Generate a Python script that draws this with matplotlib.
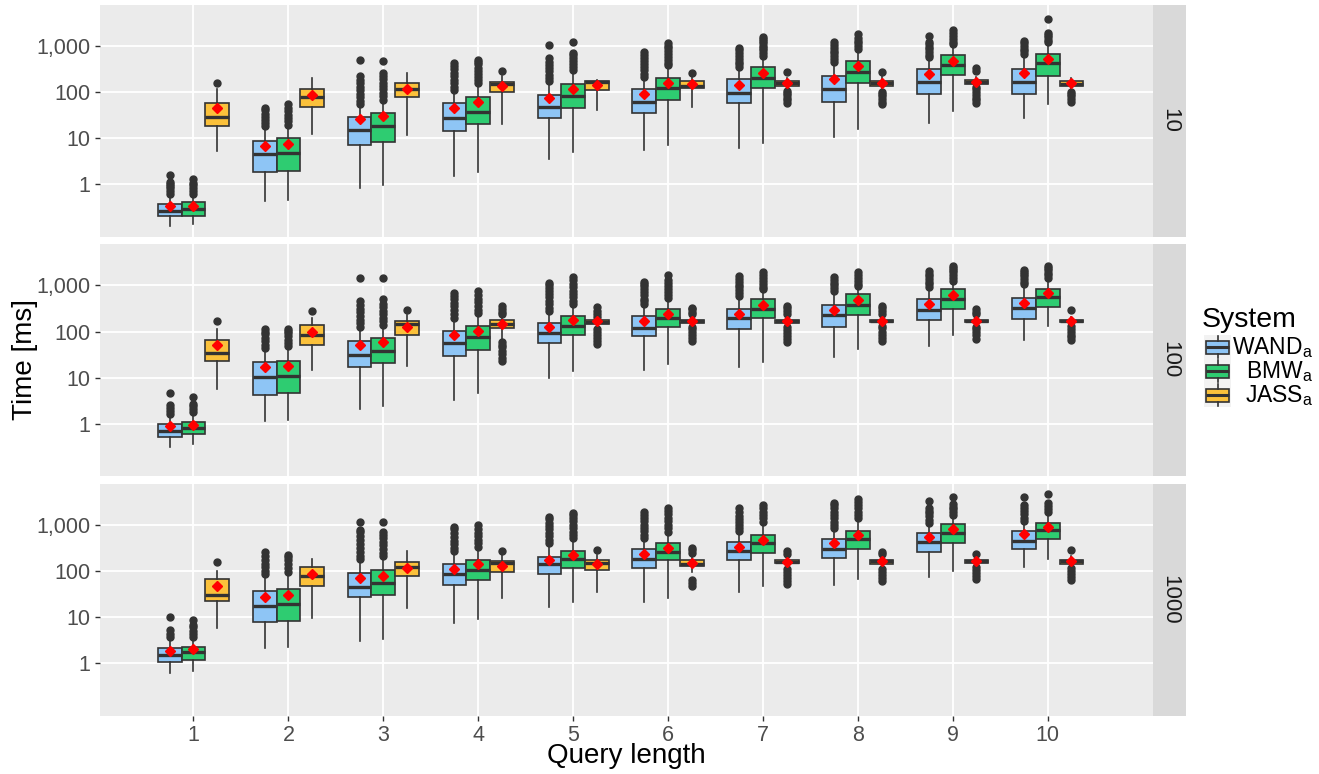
import matplotlib
matplotlib.use("Agg")
import matplotlib.pyplot as plt
from matplotlib.patches import Rectangle
from matplotlib.ticker import NullLocator, FixedLocator, FuncFormatter

plt.rcParams['font.family'] = ['Liberation Sans', 'DejaVu Sans']
plt.rcParams['mathtext.fontset'] = 'custom'
plt.rcParams['mathtext.rm'] = 'Liberation Sans'
plt.rcParams['mathtext.it'] = 'Liberation Sans:italic'

# ---------------- data ----------------
query_lengths = [1, 2, 3, 4, 5, 6, 7, 8, 9, 10]
facet_labels = ["10", "100", "1000"]
systems = ["WAND", "BMW", "JASS"]
legend_labels = [r"WAND$_\mathrm{a}$", r"BMW$_\mathrm{a}$", r"JASS$_\mathrm{a}$"]
y_breaks = [1, 10, 100, 1000]

# facet "10"
WAND_10_LOW = [0.124, 0.43, 0.8, 1.52, 3.5, 5.5, 6.2, 10.4, 21.5, 26.8]
WAND_10_Q1 = [0.20, 1.8, 7.0, 14.2, 27.6, 34.4, 57, 61.5, 90, 90]
WAND_10_MED = [0.263, 4.5, 14.9, 26.8, 46.4, 60, 97, 114, 167, 167]
WAND_10_Q3 = [0.367, 8.6, 29, 56.8, 86, 114, 189, 226, 311, 311]
WAND_10_HIGH = [0.52, 16.2, 49.6, 101, 155, 198, 327, 418, 540, 540]
WAND_10_MEAN = [0.33, 6.8, 25.5, 44, 73, 90, 142, 189, 245, 255]
WAND_10_OUT = [
    [0.6, 0.7, 0.8, 0.9, 1.0, 1.1, 1.57],
    [18, 21, 25, 29, 34, 40, 46],
    [55, 65, 78, 92, 110, 130, 155, 185, 220, 500],
    [110, 130, 155, 185, 220, 260, 310, 370, 420],
    [170, 200, 235, 280, 330, 390, 460, 540, 1050],
    [215, 250, 295, 350, 410, 480, 560, 650, 750],
    [350, 400, 460, 530, 610, 700, 800, 900],
    [450, 520, 600, 690, 790, 900, 1050, 1200],
    [580, 650, 740, 840, 950, 1080, 1240, 1650],
    [660, 760, 870, 1000, 1150, 1280],
]
BMW_10_LOW = [0.135, 0.45, 0.95, 1.8, 4.9, 7.0, 7.7, 15.7, 39, 55]
BMW_10_Q1 = [0.205, 1.92, 8.3, 19.8, 44, 67, 120, 155, 234, 226]
BMW_10_MED = [0.28, 4.65, 18.3, 37.3, 82, 120, 199, 277, 386, 418]
BMW_10_Q3 = [0.40, 9.85, 34.4, 79, 149, 205, 344, 479, 637, 660]
BMW_10_HIGH = [0.58, 17.6, 61.5, 142, 277, 355, 586, 819, 1050, 1140]
BMW_10_MEAN = [0.337, 7.4, 30, 60, 114, 159, 264, 367, 472, 521]
BMW_10_OUT = [
    [0.62, 0.72, 0.82, 0.95, 1.05, 1.28],
    [19, 23, 27, 32, 38, 45, 55],
    [68, 80, 95, 115, 135, 160, 190, 225, 262, 470],
    [155, 180, 210, 245, 290, 340, 400, 460, 500],
    [300, 350, 410, 480, 560, 650, 700, 1240],
    [380, 430, 500, 580, 670, 780, 900, 1020, 1140],
    [620, 700, 800, 900, 1020, 1160, 1300, 1450, 1590],
    [880, 1000, 1150, 1300, 1500, 1800],
    [1100, 1250, 1450, 1650, 1900, 2220],
    [1200, 1350, 1550, 1750, 1950, 3800],
]
JASS_10_LOW = [5.2, 12.2, 11.6, 19.8, 40.5, 46.4, 125, 115, 140, 115]
JASS_10_Q1 = [18.3, 46.5, 78, 101, 110, 120, 137, 135, 149, 135]
JASS_10_MED = [29, 79, 114, 149, 162, 137, 155, 155, 167, 149]
JASS_10_Q3 = [58.5, 118, 159, 167, 174, 176, 176, 174, 182, 176]
JASS_10_HIGH = [114, 199, 264, 223, 182, 223, 200, 223, 210, 200]
JASS_10_MEAN = [45.6, 85, 115, 135, 142, 149, 155, 155, 167, 155]
JASS_10_OUT = [
    [159],
    [],
    [],
    [286],
    [],
    [264],
    [58, 66, 75, 85, 95, 105, 277],
    [55, 62, 70, 80, 90, 100, 277],
    [58, 66, 75, 85, 100, 115, 130, 290, 333],
    [62, 70, 80, 90, 100],
]

# facet "100"
WAND_100_LOW = [0.31, 1.12, 2.09, 3.3, 9.85, 14.9, 17.1, 28, 49.6, 67]
WAND_100_Q1 = [0.51, 4.27, 17.1, 30, 57, 79, 114, 126, 174, 189]
WAND_100_MED = [0.70, 10.4, 31.6, 55, 94, 120, 192, 223, 300, 327]
WAND_100_Q3 = [1.0, 21.5, 61.5, 101, 155, 215, 316, 386, 497, 540]
WAND_100_HIGH = [1.44, 40.5, 114, 182, 255, 355, 540, 695, 848, 966]
WAND_100_MEAN = [0.87, 16.7, 50, 82, 126, 167, 245, 300, 400, 425]
WAND_100_OUT = [
    [1.6, 1.9, 2.2, 2.5, 4.5],
    [44, 52, 62, 74, 88, 100, 114],
    [125, 150, 180, 215, 260, 310, 370, 455, 1470],
    [200, 240, 290, 350, 420, 500, 590, 695],
    [280, 330, 390, 460, 550, 650, 770, 900, 1020, 1140],
    [390, 450, 520, 610, 710, 830, 960, 1080, 1180],
    [590, 680, 790, 910, 1050, 1200, 1400, 1590],
    [760, 870, 1000, 1150, 1330, 1550],
    [930, 1060, 1220, 1400, 1600, 1820, 2040],
    [1060, 1200, 1380, 1580, 1800, 2000, 2150],
]
BMW_100_LOW = [0.36, 1.22, 2.38, 4.65, 13.7, 19.8, 21.5, 42.7, 83, 135]
BMW_100_Q1 = [0.58, 4.5, 20.2, 40.5, 86, 126, 192, 223, 311, 344]
BMW_100_MED = [0.78, 10.7, 37.3, 75, 135, 192, 311, 373, 513, 568]
BMW_100_Q3 = [1.09, 22.6, 73, 130, 215, 311, 497, 660, 819, 860]
BMW_100_HIGH = [1.65, 44, 126, 234, 355, 497, 750, 890, 1180, 1330]
BMW_100_MEAN = [0.94, 17.6, 58.5, 105, 176, 245, 380, 479, 637, 695]
BMW_100_OUT = [
    [1.8, 2.1, 2.4, 2.6, 3.7],
    [48, 56, 66, 78, 92, 105, 114],
    [138, 165, 195, 235, 280, 335, 400, 497, 1420],
    [255, 300, 360, 430, 510, 610, 750],
    [390, 460, 550, 650, 770, 920, 1100, 1300, 1550],
    [540, 620, 720, 840, 980, 1140, 1330, 1650],
    [820, 950, 1100, 1280, 1480, 1700, 1950],
    [970, 1100, 1270, 1470, 1700, 2000],
    [1280, 1460, 1680, 1920, 2200, 2450, 2720],
    [1450, 1650, 1880, 2150, 2400, 2630],
]
JASS_100_LOW = [5.7, 14.9, 17.6, 62, 140, 140, 140, 140, 140, 140]
JASS_100_Q1 = [23.4, 52, 86, 120, 147, 155, 155, 160, 160, 160]
JASS_100_MED = [34.4, 86, 147, 149, 159, 167, 167, 167, 167, 167]
JASS_100_Q3 = [67, 137, 167, 174, 176, 182, 182, 182, 182, 182]
JASS_100_HIGH = [114, 199, 223, 215, 190, 210, 210, 210, 210, 210]
JASS_100_MEAN = [50, 97, 126, 149, 167, 167, 167, 167, 167, 167]
JASS_100_OUT = [
    [167],
    [277],
    [290],
    [23, 27, 32, 38, 45, 52, 58, 235, 270, 310, 355],
    [53, 62, 73, 86, 100, 115, 205, 240, 285, 333],
    [62, 72, 84, 98, 112, 125, 235, 270, 310, 330],
    [58, 68, 80, 95, 110, 125, 235, 280, 330, 360],
    [62, 72, 85, 100, 118, 130, 235, 275, 320, 350],
    [70, 82, 96, 112, 128, 235, 270, 310],
    [67, 75, 85, 100, 115, 130, 290],
]

# facet "1000"
WAND_1000_LOW = [0.62, 2.09, 3.0, 7.3, 16.7, 21.5, 35.5, 49.6, 75, 120]
WAND_1000_Q1 = [1.07, 7.9, 27.6, 49.6, 85, 114, 174, 195, 264, 300]
WAND_1000_MED = [1.49, 17.6, 45.6, 85, 140, 182, 272, 297, 433, 455]
WAND_1000_Q3 = [2.15, 37.3, 92, 140, 205, 297, 433, 497, 660, 740]
WAND_1000_HIGH = [3.05, 75, 160, 242, 367, 472, 660, 780, 1000, 1120]
WAND_1000_MEAN = [1.85, 27.6, 69, 110, 174, 231, 338, 412, 557, 637]
WAND_1000_OUT = [
    [3.7, 4.3, 5.2, 10.1],
    [85, 100, 120, 145, 175, 210, 264],
    [180, 215, 260, 320, 390, 480, 590, 700, 780, 1180],
    [270, 320, 380, 460, 560, 680, 800, 890],
    [410, 480, 570, 680, 800, 950, 1120, 1320, 1520],
    [530, 620, 730, 860, 1010, 1200, 1400, 1650, 1950],
    [740, 860, 1000, 1170, 1370, 1600, 1900, 2300],
    [850, 1000, 1180, 1400, 1650, 1950, 2300, 2700, 3050],
    [1100, 1300, 1550, 1800, 2050, 2300, 3380],
    [1250, 1450, 1700, 2000, 2350, 2720, 4000],
]
BMW_1000_LOW = [0.68, 2.26, 3.3, 8.9, 21.5, 25.5, 47, 67, 101, 180]
BMW_1000_Q1 = [1.16, 8.3, 30, 64, 118, 174, 250, 297, 412, 490]
BMW_1000_MED = [1.7, 18.9, 54, 105, 180, 264, 412, 490, 680, 780]
BMW_1000_Q3 = [2.26, 40.6, 105, 174, 277, 412, 605, 753, 1036, 1090]
BMW_1000_HIGH = [3.3, 82, 182, 297, 449, 660, 1090, 1280, 1520, 1800]
BMW_1000_MEAN = [1.99, 30, 79, 140, 223, 321, 472, 605, 800, 920]
BMW_1000_OUT = [
    [3.6, 4.2, 5.0, 6.0, 6.7, 8.6],
    [95, 115, 140, 170, 200, 223],
    [210, 250, 300, 360, 430, 520, 620, 716, 1180],
    [340, 400, 480, 570, 680, 810, 1000],
    [520, 610, 720, 850, 1000, 1200, 1420, 1650, 1850],
    [720, 850, 1000, 1200, 1420, 1700, 2000, 2300],
    [1180, 1400, 1650, 1950, 2300, 2720],
    [1400, 1650, 1950, 2300, 2700, 3100, 3600],
    [1650, 1900, 2200, 2500, 2860, 4120],
    [1900, 2200, 2550, 3050, 4650],
]
JASS_1000_LOW = [5.7, 9.4, 15.4, 25.5, 35.5, 95, 120, 125, 130, 120]
JASS_1000_Q1 = [22.3, 47, 78, 97, 105, 128, 149, 145, 149, 145]
JASS_1000_MED = [30, 78, 120, 147, 147, 142, 160, 162, 162, 162]
JASS_1000_Q3 = [66, 120, 159, 168, 174, 174, 174, 174, 174, 174]
JASS_1000_HIGH = [100, 180, 272, 234, 223, 215, 215, 215, 210, 215]
JASS_1000_MEAN = [47, 86, 114, 128, 140, 150, 160, 162, 162, 162]
JASS_1000_OUT = [
    [159],
    [],
    [],
    [277],
    [286],
    [47, 55, 64, 245, 280, 310],
    [52, 60, 70, 82, 96, 110, 240, 270],
    [60, 70, 82, 96, 112, 235, 265],
    [68, 78, 90, 105, 120, 230],
    [64, 75, 88, 100, 115, 290],
]

# ---------------- styling ----------------
fill_colors = {"WAND": "#8EC5F5", "BMW": "#2ECC71", "JASS": "#FBC13B"}
offsets = {"WAND": -0.25, "BMW": 0.0, "JASS": 0.25}
box_width = 0.25
edge = "#333333"

data = {}
g = globals()
for f in facet_labels:
    for s in systems:
        data[(f, s)] = dict(lo=g[f"{s}_{f}_LOW"], q1=g[f"{s}_{f}_Q1"], med=g[f"{s}_{f}_MED"],
                            q3=g[f"{s}_{f}_Q3"], hi=g[f"{s}_{f}_HIGH"], mean=g[f"{s}_{f}_MEAN"],
                            out=g[f"{s}_{f}_OUT"])

W, H = 1319, 774
fig = plt.figure(figsize=(W / 100, H / 100), dpi=100)

panel_left, panel_right = 100, 1152.7
strip_right = 1186
panel_tops = [4.5, 244, 483.5]
panel_h = 232
ylim = (10 ** -1.141, 10 ** 3.902)
xlim = (0.015, 11.107)

def frac_rect(x0, y0, x1, y1):
    return [x0 / W, 1 - y1 / H, (x1 - x0) / W, (y1 - y0) / H]

axes = []
for i, f in enumerate(facet_labels):
    top = panel_tops[i]
    ax = fig.add_axes(frac_rect(panel_left, top, panel_right, top + panel_h))
    ax.set_facecolor("#EBEBEB")
    for sp in ax.spines.values():
        sp.set_visible(False)
    ax.set_yscale("log")
    ax.set_ylim(*ylim)
    ax.set_xlim(*xlim)
    ax.yaxis.set_major_locator(FixedLocator(y_breaks))
    ax.yaxis.set_minor_locator(NullLocator())
    ax.yaxis.set_major_formatter(FuncFormatter(lambda v, p: f"{int(round(v)):,}"))
    ax.set_xticks(query_lengths)
    ax.set_xticklabels([str(q) for q in query_lengths])
    ax.grid(True, which="major", color="white", linewidth=1.3)
    ax.set_axisbelow(True)
    ax.tick_params(axis="y", which="major", length=3.5, width=1.0, color=edge,
                   labelsize=15.5, labelcolor="#4D4D4D", pad=3.5)
    if i < 2:
        ax.tick_params(axis="x", length=0, labelbottom=False)
    else:
        ax.tick_params(axis="x", length=3.5, width=1.0, color=edge,
                       labelsize=15.5, labelcolor="#4D4D4D", pad=3)

    for s in systems:
        d = data[(f, s)]
        stats = []
        for k in range(len(query_lengths)):
            stats.append(dict(med=d["med"][k], q1=d["q1"][k], q3=d["q3"][k],
                              whislo=d["lo"][k], whishi=d["hi"][k],
                              mean=d["mean"][k], fliers=d["out"][k]))
        pos = [q + offsets[s] for q in query_lengths]
        ax.bxp(stats, positions=pos, widths=box_width, patch_artist=True,
               showmeans=True, showcaps=False, manage_ticks=False,
               boxprops=dict(facecolor=fill_colors[s], edgecolor=edge, linewidth=1.2),
               medianprops=dict(color=edge, linewidth=2.4, solid_capstyle="butt"),
               whiskerprops=dict(color=edge, linewidth=1.2),
               flierprops=dict(marker="o", markerfacecolor=edge, markeredgecolor=edge,
                               markersize=5, linestyle="none"),
               meanprops=dict(marker="D", markerfacecolor="#FF0000",
                              markeredgecolor="#FF0000", markersize=4.8, zorder=5))
    # strip
    sax = fig.add_axes(frac_rect(panel_right, top, strip_right, top + panel_h))
    sax.set_facecolor("#D9D9D9")
    sax.set_xticks([])
    sax.set_yticks([])
    for sp in sax.spines.values():
        sp.set_visible(False)
    sax.text(0.5, 0.5, f, rotation=-90, ha="center", va="center",
             fontsize=16, color="#1A1A1A", transform=sax.transAxes)
    axes.append(ax)

# axis titles
fig.text(25 / W, 1 - 360 / H, "Time [ms]", rotation=90, ha="center", va="center",
         fontsize=20, color="black")
fig.text(626 / W, 1 - 756 / H, "Query length", ha="center", va="center",
         fontsize=20, color="black")

# legend (drawn in pixel coordinates)
lax = fig.add_axes([0, 0, 1, 1], facecolor="none")
lax.set_xlim(0, W)
lax.set_ylim(H, 0)
lax.axis("off")
lax.text(1202, 327, "System", ha="left", va="baseline", fontsize=20.5, color="black")
key_centers = [347, 371, 395]
kx0, kw, kh = 1204, 27, 24
for s, lab, c in zip(systems, legend_labels, key_centers):
    lax.add_patch(Rectangle((kx0, c - kh / 2), kw, kh, facecolor="#F2F2F2", edgecolor="none"))
    xm = kx0 + kw / 2
    lax.plot([xm, xm], [c - 11, c - 6.5], color=edge, lw=1.2)
    lax.plot([xm, xm], [c + 6.5, c + 11], color=edge, lw=1.2)
    lax.add_patch(Rectangle((kx0 + 2, c - 6.5), kw - 4, 13, facecolor=fill_colors[s],
                            edgecolor=edge, linewidth=1.2))
    lax.plot([kx0 + 2, kx0 + kw - 2], [c, c], color=edge, lw=2.2, solid_capstyle="butt")
    lax.text(1313, c + 7, lab, ha="right", va="baseline", fontsize=16.5, color="black")

fig.savefig("out.png", dpi=100)
